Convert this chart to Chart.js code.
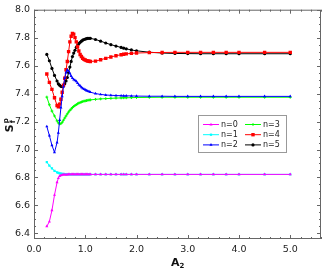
<!DOCTYPE html>
<html>
<head>
<meta charset="utf-8">
<script src="https://cdn.jsdelivr.net/npm/chart.js@4.4.0/dist/chart.umd.min.js"></script>
<style>
  body { margin: 0; background: #fff; }
  canvas { display: block; }
</style>
</head>
<body>
<canvas id="chart" width="332" height="273" style="width:332px;height:273px"></canvas>
<script>
// A2 values (shared by all curves)
const a2 = [0.25, 0.30, 0.35, 0.40, 0.45, 0.475, 0.50, 0.525, 0.55, 0.575, 0.60, 0.625, 0.65, 0.675, 0.70, 0.725, 0.75, 0.775, 0.80, 0.825, 0.85, 0.875, 0.90, 0.925, 0.95, 0.975, 1.00, 1.025, 1.05, 1.075, 1.10,
            1.2, 1.3, 1.4, 1.5, 1.6, 1.7, 1.75, 1.8, 1.9, 2.0, 2.25, 2.5, 2.75, 3.0, 3.25, 3.5, 3.75, 4.0, 4.5, 5.0];

const n0 = [6.45, 6.485, 6.565, 6.675, 6.765, 6.795, 6.81, 6.816, 6.819, 6.82, 6.821, 6.821, 6.821, 6.822, 6.822, 6.822, 6.822, 6.822, 6.822, 6.822, 6.822, 6.822, 6.822, 6.822, 6.822, 6.822, 6.822, 6.822, 6.822, 6.822, 6.822,
            6.822, 6.822, 6.822, 6.822, 6.822, 6.822, 6.822, 6.822, 6.822, 6.822, 6.822, 6.822, 6.822, 6.822, 6.822, 6.822, 6.822, 6.822, 6.822, 6.822];
const n1 = [6.91, 6.885, 6.865, 6.848, 6.837, 6.833, 6.83, 6.828, 6.826, 6.825, 6.824, 6.823, 6.823, 6.823, 6.822, 6.822, 6.822, 6.822, 6.822, 6.822, 6.822, 6.822, 6.822, 6.822, 6.822, 6.822, 6.822, 6.822, 6.822, 6.822, 6.822,
            6.822, 6.822, 6.822, 6.822, 6.822, 6.822, 6.822, 6.822, 6.822, 6.822, 6.822, 6.822, 6.822, 6.822, 6.822, 6.822, 6.822, 6.822, 6.822, 6.822];
const n2 = [7.165, 7.10, 7.03, 6.98, 7.05, 7.12, 7.21, 7.30, 7.38, 7.45, 7.51, 7.55, 7.57, 7.56, 7.545, 7.525, 7.51, 7.50, 7.495, 7.488, 7.475, 7.463, 7.455, 7.445, 7.438, 7.432, 7.427, 7.422, 7.418, 7.414, 7.41,
            7.40, 7.394, 7.39, 7.388, 7.386, 7.385, 7.384, 7.384, 7.383, 7.382, 7.381, 7.381, 7.38, 7.38, 7.38, 7.38, 7.38, 7.38, 7.38, 7.38];
const n3 = [7.375, 7.32, 7.275, 7.24, 7.205, 7.19, 7.183, 7.185, 7.195, 7.21, 7.225, 7.24, 7.255, 7.268, 7.28, 7.29, 7.30, 7.308, 7.315, 7.321, 7.327, 7.332, 7.336, 7.34, 7.343, 7.346, 7.348, 7.35, 7.352, 7.354, 7.355,
            7.359, 7.362, 7.364, 7.366, 7.368, 7.369, 7.37, 7.37, 7.371, 7.372, 7.373, 7.374, 7.374, 7.374, 7.374, 7.374, 7.374, 7.374, 7.374, 7.374];
const n4 = [7.54, 7.48, 7.43, 7.37, 7.315, 7.305, 7.325, 7.36, 7.41, 7.46, 7.51, 7.57, 7.63, 7.70, 7.77, 7.81, 7.83, 7.825, 7.80, 7.77, 7.735, 7.705, 7.68, 7.665, 7.653, 7.645, 7.64, 7.636, 7.633, 7.631, 7.63,
            7.632, 7.642, 7.652, 7.662, 7.671, 7.678, 7.681, 7.684, 7.688, 7.69, 7.693, 7.694, 7.695, 7.695, 7.695, 7.695, 7.695, 7.695, 7.695, 7.695];
const n5 = [7.68, 7.635, 7.58, 7.53, 7.49, 7.47, 7.46, 7.452, 7.45, 7.455, 7.47, 7.49, 7.515, 7.55, 7.59, 7.63, 7.665, 7.69, 7.71, 7.73, 7.745, 7.757, 7.767, 7.775, 7.782, 7.787, 7.79, 7.793, 7.795, 7.795, 7.795,
            7.787, 7.775, 7.762, 7.75, 7.74, 7.73, 7.725, 7.72, 7.712, 7.706, 7.696, 7.69, 7.687, 7.686, 7.685, 7.685, 7.685, 7.685, 7.685, 7.685];

const seriesNames = ["n=0", "n=1", "n=2", "n=3", "n=4", "n=5"];
const xTicks = [0, 1, 2, 3, 4, 5];
const yTicks = [6.4, 6.6, 6.8, 7.0, 7.2, 7.4, 7.6, 7.8, 8.0];

function pts(ys) {
    return a2.map((x, i) => ({x: x, y: ys[i]}));
}

function mkSet(i, ys, color, style, r) {
    return {
        label: seriesNames[i],
        data: pts(ys),
        showLine: true,
        borderColor: color,
        backgroundColor: color,
        borderWidth: 1,
        pointStyle: style,
        pointRadius: r,
        pointBorderWidth: style == "cross" ? 1 : 0,
        pointBorderColor: color,
        pointBackgroundColor: color
    };
}

const datasets = [
    mkSet(0, n0, "#ff00ff", "triangle", 1.8),
    mkSet(1, n1, "#00ffff", "rect", 1.6),
    mkSet(2, n2, "#0000ff", "triangle", 1.8),
    mkSet(3, n3, "#00ff00", "cross", 1.4),
    mkSet(4, n4, "#ff0000", "rect", 2.4),
    mkSet(5, n5, "#000000", "circle", 1.6)
];

// frame, inside ticks, axis titles, legend
const decorate = {
    id: "decorate",
    afterDraw(chart) {
        const ctx = chart.ctx;
        const a = chart.chartArea;
        const xs = chart.scales.x, ys = chart.scales.y;
        ctx.save();
        ctx.strokeStyle = "#666";
        ctx.lineWidth = 1;
        ctx.strokeRect(a.left + 0.5, a.top + 0.5, a.right - a.left - 1, a.bottom - a.top - 1);
        ctx.beginPath();
        for (let i = 0; i <= 28; i++) {
            const v = i * 0.2;
            const px = Math.round(xs.getPixelForValue(v)) + 0.5;
            const len = (i % 5 == 0) ? 4 : 2;
            ctx.moveTo(px, a.bottom); ctx.lineTo(px, a.bottom - len);
            ctx.moveTo(px, a.top); ctx.lineTo(px, a.top + len);
        }
        for (let i = 0; i <= 32; i++) {
            const v = 6.4 + i * 0.05;
            const py = Math.round(ys.getPixelForValue(v)) + 0.5;
            const len = (i % 4 == 0) ? 4 : 2;
            ctx.moveTo(a.left, py); ctx.lineTo(a.left + len, py);
            ctx.moveTo(a.right, py); ctx.lineTo(a.right - len, py);
        }
        ctx.stroke();

        // x title
        ctx.fillStyle = "#111";
        ctx.textBaseline = "alphabetic";
        ctx.font = "bold 11px 'DejaVu Sans'";
        const cx = (a.left + a.right) / 2;
        ctx.textAlign = "right";
        ctx.fillText("A", cx + 2, 266);
        ctx.font = "bold 7px 'DejaVu Sans'";
        ctx.textAlign = "left";
        ctx.fillText("2", cx + 2, 268);

        // y title
        ctx.save();
        ctx.translate(13, (a.top + a.bottom) / 2);
        ctx.rotate(-Math.PI / 2);
        ctx.font = "bold 11px 'DejaVu Sans'";
        ctx.textAlign = "right";
        ctx.fillText("S", 0, 0);
        ctx.font = "bold 7px 'DejaVu Sans'";
        ctx.textAlign = "left";
        ctx.fillText("p", 1, -5);
        ctx.fillText("f", 1, 2);
        ctx.restore();

        // legend
        const bx = 198.5, by = 115.5, bw = 88, bh = 37;
        ctx.fillStyle = "#fff";
        ctx.fillRect(bx, by, bw, bh);
        ctx.strokeStyle = "#999";
        ctx.strokeRect(bx, by, bw, bh);
        ctx.font = "8px 'DejaVu Sans'";
        ctx.textAlign = "left";
        ctx.textBaseline = "middle";
        chart.data.datasets.forEach((ds, i) => {
            const col = Math.floor(i / 3), row = i % 3;
            const lx = 203 + col * 42, ly = 124.5 + row * 10.2;
            ctx.strokeStyle = ds.borderColor;
            ctx.lineWidth = 1;
            ctx.beginPath();
            ctx.moveTo(lx, ly); ctx.lineTo(lx + 16, ly);
            ctx.stroke();
            ctx.fillStyle = ds.pointBackgroundColor;
            ctx.strokeStyle = ds.pointBorderColor;
            Chart.helpers.drawPoint(ctx, {
                pointStyle: ds.pointStyle, rotation: 0, radius: ds.pointRadius,
                borderWidth: ds.pointBorderWidth
            }, lx + 8, ly);
            ctx.fillStyle = "#222";
            ctx.fillText(ds.label, lx + 18, ly + 0.5);
        });
        ctx.restore();
    }
};

Chart.defaults.font.family = "'DejaVu Sans'";
Chart.defaults.color = "#222";

let ctx_main = document.getElementById("chart").getContext("2d");
let chart = new Chart(ctx_main, {
    type: "scatter",
    data: { datasets: datasets },
    options: {
        responsive: false,
        animation: false,
        layout: { padding: { top: 8, right: 11, left: 0, bottom: 0 } },
        plugins: {
            legend: { display: false },
            tooltip: { enabled: false }
        },
        scales: {
            x: {
                type: "linear",
                min: 0,
                max: 5.6,
                afterFit: (s) => { s.height = 34; },
                afterBuildTicks: (s) => { s.ticks = xTicks.map(v => ({value: v})); },
                ticks: { font: { size: 9.5 }, padding: 5, maxRotation: 0, callback: (v) => v.toFixed(1) },
                grid: { display: false, drawTicks: false },
                border: { display: false }
            },
            y: {
                type: "linear",
                min: 6.36,
                max: 8.0,
                afterFit: (s) => { s.width = 34; },
                afterBuildTicks: (s) => { s.ticks = yTicks.map(v => ({value: v})); },
                ticks: { font: { size: 9.5 }, padding: 4, callback: (v) => v.toFixed(1) },
                grid: { display: false, drawTicks: false },
                border: { display: false }
            }
        }
    },
    plugins: [decorate]
});
</script>
</body>
</html>
